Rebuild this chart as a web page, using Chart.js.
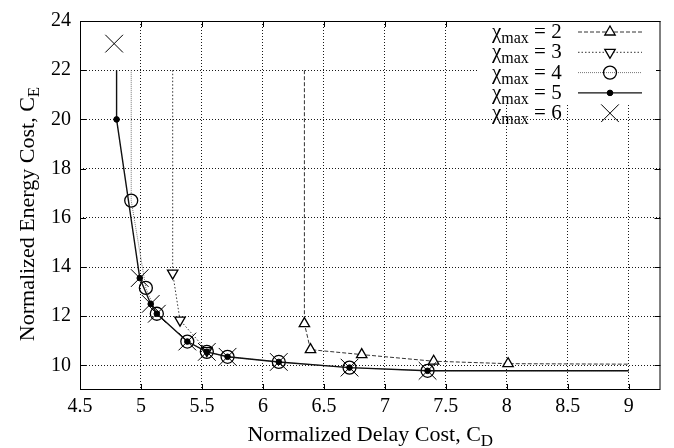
<!DOCTYPE html>
<html lang="en">
<head>
    <meta charset="UTF-8">
    <title>Normalized Energy Cost vs Delay Cost</title>
    <style>
        body {
            margin: 0;
            background: #fff;
        }
    </style>
</head>
<body>
    <canvas id="chart" width="674" height="448"></canvas>
    <script src="https://cdn.jsdelivr.net/npm/chart.js"></script>
    <script>
        // values
        const xTicks = [4.5, 5, 5.5, 6, 6.5, 7, 7.5, 8, 8.5, 9];
        const yTicks = [10, 12, 14, 16, 18, 20, 22, 24];
        const chiValues = ['2', '3', '4', '5', '6'];

        const delay2 = [6.34, 6.34, 6.39, 6.81, 7.40, 8.01, 9.0];
        const energy2 = [22.0, 11.70, 10.64, 10.44, 10.17, 10.07, 10.05];

        const delay3 = [5.26, 5.26, 5.32, 5.54];
        const energy3 = [22.0, 13.75, 11.84, 10.60];

        const delay4 = [4.92, 4.92, 5.04, 5.13, 5.38, 5.54, 5.71, 6.13, 6.71, 7.35, 9.0];
        const energy4 = [22.0, 16.70, 13.15, 12.10, 10.97, 10.55, 10.35, 10.14, 9.91, 9.78, 9.78];

        const delay5 = [4.80, 4.80, 4.99, 5.08, 5.13, 5.38, 5.54, 5.71, 6.13, 6.71, 7.35, 9.0];
        const energy5 = [22.0, 20.0, 13.55, 12.50, 12.10, 10.97, 10.55, 10.35, 10.14, 9.91, 9.78, 9.78];

        const delay6 = [4.78, 4.99, 5.08, 5.13, 5.38, 5.54, 5.71, 6.13, 6.71, 7.35];
        const energy6 = [23.08, 13.55, 12.50, 12.10, 10.97, 10.55, 10.35, 10.14, 9.91, 9.78];

        const FONT = '"Liberation Serif", "Times New Roman", serif';

        // one style entry per series, used for the plot and the key
        const styles = [
            { line: '#333', width: 1, dash: [4, 2], marker: 'triangle', rotation: 0, radius: 6, fill: '#fff', markerWidth: 1.3 },
            { line: '#333', width: 1, dash: [1.5, 2], marker: 'triangle', rotation: 180, radius: 6, fill: '#fff', markerWidth: 1.3 },
            { line: '#777', width: 1, dash: [1, 1], marker: 'circle', rotation: 0, radius: 6.5, fill: 'rgba(0,0,0,0)', markerWidth: 1.3 },
            { line: '#111', width: 1.4, dash: [], marker: 'circle', rotation: 0, radius: 2.8, fill: '#000', markerWidth: 1 },
            { line: null, width: 0, dash: [], marker: 'crossRot', rotation: 0, radius: 12.5, fill: '#000', markerWidth: 1 }
        ];

        function toPoints(xs, ys) {
            return xs.map((x, i) => ({ x: x, y: ys[i] }));
        }

        // the line ends (top at 22, right end at 9) carry no marker
        function markerRadius(r) {
            return ctx => {
                const p = ctx.raw;
                return p && (p.y >= 22 || p.x >= 9) ? 0 : r;
            };
        }

        const seriesData = [
            toPoints(delay2, energy2),
            toPoints(delay3, energy3),
            toPoints(delay4, energy4),
            toPoints(delay5, energy5),
            toPoints(delay6, energy6)
        ];
        const drawOrder = [4, 3, 2, 0, 1];

        const datasets = seriesData.map((data, i) => {
            const s = styles[i];
            return {
                label: 'χmax = ' + chiValues[i],
                data: data,
                showLine: s.line !== null,
                borderColor: s.line || '#000',
                borderWidth: s.width,
                borderDash: s.dash,
                pointStyle: s.marker,
                pointRotation: s.rotation,
                pointRadius: s.line ? markerRadius(s.radius) : s.radius,
                pointBackgroundColor: s.fill,
                pointBorderColor: '#000',
                pointBorderWidth: s.markerWidth,
                order: drawOrder[i]
            };
        });

        function textWithSub(ctx, main, sub, x, y, size, subSize, align) {
            ctx.font = size + 'px ' + FONT;
            const w1 = ctx.measureText(main).width;
            ctx.font = subSize + 'px ' + FONT;
            const w2 = ctx.measureText(sub).width;
            const start = align === 'center' ? x - (w1 + w2) / 2 : x;
            ctx.textAlign = 'left';
            ctx.textBaseline = 'alphabetic';
            ctx.font = size + 'px ' + FONT;
            ctx.fillText(main, start, y);
            ctx.font = subSize + 'px ' + FONT;
            ctx.fillText(sub, start + w1, y + 5);
            return start + w1 + w2;
        }

        const figurePlugin = {
            id: 'figure',
            afterDatasetsDraw(chart) {
                const { ctx, chartArea: a, scales } = chart;
                ctx.save();
                ctx.strokeStyle = '#000';
                ctx.lineWidth = 1;
                ctx.setLineDash([]);
                ctx.strokeRect(a.left + 0.5, a.top + 0.5, a.width - 1, a.height - 1);

                // inward tick marks on all four sides
                const tl = 6;
                ctx.beginPath();
                xTicks.forEach(v => {
                    const px = Math.round(scales.x.getPixelForValue(v)) + 0.5;
                    ctx.moveTo(px, a.bottom); ctx.lineTo(px, a.bottom - tl);
                    ctx.moveTo(px, a.top); ctx.lineTo(px, a.top + tl);
                });
                yTicks.forEach(v => {
                    const py = Math.round(scales.y.getPixelForValue(v)) + 0.5;
                    ctx.moveTo(a.left, py); ctx.lineTo(a.left + tl, py);
                    ctx.moveTo(a.right, py); ctx.lineTo(a.right - tl, py);
                });
                ctx.stroke();

                // key
                const keyX = 492, keyTop = 32, rowH = 20.3;
                const lineFrom = 578, lineTo = 642, markX = 610;
                ctx.fillStyle = '#fff';
                ctx.fillRect(478, a.top + 1, 178, keyTop + 3.5 * rowH - a.top);
                chiValues.forEach((chi, i) => {
                    const s = styles[i];
                    const y = keyTop + i * rowH;
                    ctx.fillStyle = '#000';
                    const after = textWithSub(ctx, 'χ', 'max', keyX, y + 6, 21, 16, 'left');
                    ctx.font = '21px ' + FONT;
                    ctx.fillText(' = ' + chi, after, y + 6);
                    if (s.line) {
                        ctx.strokeStyle = s.line;
                        ctx.lineWidth = s.width;
                        ctx.setLineDash(s.dash);
                        ctx.beginPath();
                        ctx.moveTo(lineFrom, y);
                        ctx.lineTo(lineTo, y);
                        ctx.stroke();
                        ctx.setLineDash([]);
                    }
                    ctx.strokeStyle = '#000';
                    ctx.fillStyle = s.fill;
                    ctx.lineWidth = s.markerWidth;
                    Chart.helpers.drawPoint(ctx, {
                        pointStyle: s.marker,
                        rotation: s.rotation,
                        radius: s.radius,
                        borderWidth: s.markerWidth
                    }, markX, y);
                });
                ctx.restore();
            },
            afterDraw(chart) {
                const { ctx, chartArea: a } = chart;
                ctx.save();
                ctx.fillStyle = '#000';
                textWithSub(ctx, 'Normalized Delay Cost, C', 'D', (a.left + a.right) / 2, 441, 22, 17, 'center');
                ctx.translate(34, 214);
                ctx.rotate(-Math.PI / 2);
                textWithSub(ctx, 'Normalized Energy Cost, C', 'E', 0, 0, 22, 17, 'center');
                ctx.restore();
            }
        };

        const gridStyle = {
            color: 'rgba(0,0,0,0.9)',
            lineWidth: 1,
            drawTicks: false
        };

        new Chart(document.getElementById('chart'), {
            type: 'scatter',
            data: { datasets: datasets },
            options: {
                responsive: false,
                animation: false,
                events: [],
                layout: { padding: { top: 13, right: 9, left: 0, bottom: 0 } },
                plugins: {
                    legend: { display: false },
                    tooltip: { enabled: false }
                },
                scales: {
                    x: {
                        type: 'linear',
                        min: 4.5,
                        max: 9.26,
                        afterBuildTicks: s => { s.ticks = xTicks.map(v => ({ value: v })); },
                        afterFit: s => { s.height = 58; },
                        grid: gridStyle,
                        border: { display: false, dash: [1, 2] },
                        ticks: {
                            color: '#000',
                            font: { family: FONT, size: 20 },
                            padding: 5,
                            maxRotation: 0,
                            autoSkip: false,
                            callback: v => String(v)
                        }
                    },
                    y: {
                        type: 'linear',
                        min: 9,
                        max: 24,
                        afterBuildTicks: s => { s.ticks = yTicks.map(v => ({ value: v })); },
                        afterFit: s => { s.width = 80; },
                        grid: gridStyle,
                        border: { display: false, dash: [1, 2] },
                        ticks: {
                            color: '#000',
                            font: { family: FONT, size: 20 },
                            padding: 9,
                            autoSkip: false,
                            callback: v => String(v)
                        }
                    }
                }
            },
            plugins: [figurePlugin]
        });
    </script>
</body>
</html>
